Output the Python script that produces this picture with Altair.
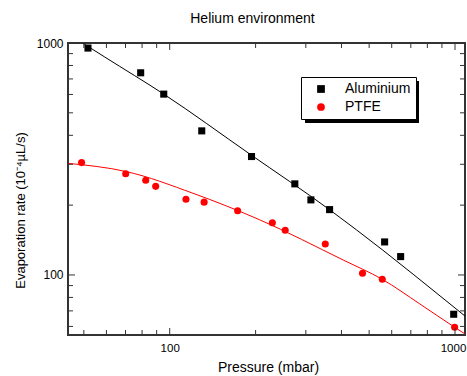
import altair as alt
import pandas as pd

# ---- data ----
al_p = [51.7, 79.1, 95.3, 129.5, 193.5, 274.5, 312.5, 363.4, 566.6, 644.8, 989.5]
al_r = [951, 744, 602, 418, 324, 247, 210.7, 191.3, 138.8, 120, 67.7]
ptfe_p = [49.1, 70.1, 82.4, 89.3, 114, 132, 173, 229, 254, 351, 474, 556, 997]
ptfe_r = [305, 273, 256, 241, 212, 206, 189, 168, 156, 136, 101.7, 95.8, 59.5]

al_fit_p = [49.5, 59.2, 95.3, 190.9, 364, 558, 923, 1084]
al_fit_r = [1000, 870, 602, 332, 190.8, 128, 78.0, 66.5]
ptfe_fit_p = [44.0, 70.5, 120.7, 206.9, 405.5, 555.6, 753, 997, 1084]
ptfe_fit_r = [302.8, 279, 225, 172.8, 116.0, 95.8, 75.0, 59.5, 55.7]

series = ["Aluminium", "PTFE"]
x_major = [100, 1000]
x_minor = [50, 60, 70, 80, 90, 200, 300, 400, 500, 600, 700, 800, 900]
y_major = [100, 1000]
y_minor = [60, 70, 80, 90, 200, 300, 400, 500, 600, 700, 800, 900]

W, H = 397, 292
FRAME = "#333333"
FONT = "Liberation Sans"

points = pd.DataFrame({
    "p": al_p + ptfe_p,
    "r": al_r + ptfe_r,
    "s": [series[0]] * len(al_p) + [series[1]] * len(ptfe_p),
})
fit_al = pd.DataFrame({"p": al_fit_p, "r": al_fit_r})
fit_ptfe = pd.DataFrame({"p": ptfe_fit_p, "r": ptfe_fit_r})

xs = alt.Scale(type="log", domain=[44, 1084], nice=False)
ys = alt.Scale(type="log", domain=[55.1, 1000], nice=False)

x_axis = alt.Axis(values=x_major, format="d", ticks=False, domain=False, grid=False,
                  labelFontSize=11.5, labelPadding=7, labelColor="black",
                  labelOffset={"condition": {"test": "datum.value == 1000", "value": -2}, "value": 0},
                  title="Pressure (mbar)", titleFontSize=14, titleFontWeight="normal",
                  titleColor="black", titleX=200, titleY=32, titleAlign="center",
                  titleBaseline="middle")
y_axis = alt.Axis(values=y_major, format="d", ticks=False, domain=False, grid=False,
                  labelFontSize=12, labelPadding=5, labelColor="black",
                  title="Evaporation rate (10⁻⁴µL/s)", titleFontSize=13,
                  titleFontWeight="normal", titleColor="black", titleAngle=270,
                  titleX=-48, titleY=167, titleAlign="center", titleBaseline="middle")

X = alt.X("p:Q", scale=xs, axis=x_axis)
Y = alt.Y("r:Q", scale=ys, axis=y_axis)

line_al = alt.Chart(fit_al).mark_line(color="black", strokeWidth=1, clip=True,
                                      interpolate="monotone").encode(x=X, y=Y)
line_pt = alt.Chart(fit_ptfe).mark_line(color="red", strokeWidth=1, clip=True,
                                        interpolate="monotone").encode(x=X, y=Y)

leg = alt.Legend(title=None, orient="none", legendX=233, legendY=34, padding=5,
                 strokeColor="black", fillColor="white", symbolOffset=8,
                 labelOffset=17, labelFontSize=14, labelColor="black", symbolSize=60,
                 rowPadding=4, symbolStrokeWidth=0)
pts = alt.Chart(points).mark_point(filled=True, opacity=1, size=50).encode(
    x=X, y=Y,
    color=alt.Color("s:N", scale=alt.Scale(domain=series, range=["black", "red"]), legend=leg),
    shape=alt.Shape("s:N", scale=alt.Scale(domain=series, range=["square", "circle"]), legend=leg),
)

# legend drop shadow (decoration)
shadow = alt.Chart(pd.DataFrame({"a": [0]})).mark_rect(color="black").encode(
    x=alt.value(237), x2=alt.value(351), y=alt.value(38), y2=alt.value(80))


def xticks(vals, L):
    df = pd.DataFrame({"p": vals})
    b = alt.Chart(df).mark_rule(color=FRAME, strokeWidth=1).encode(
        x=X, y=alt.value(H), y2=alt.value(H - L))
    t = alt.Chart(df).mark_rule(color=FRAME, strokeWidth=1).encode(
        x=X, y=alt.value(0), y2=alt.value(L))
    return [b, t]


def yticks(vals, L):
    df = pd.DataFrame({"r": vals})
    l = alt.Chart(df).mark_rule(color=FRAME, strokeWidth=1).encode(
        y=Y, x=alt.value(0), x2=alt.value(L))
    r = alt.Chart(df).mark_rule(color=FRAME, strokeWidth=1).encode(
        y=Y, x=alt.value(W), x2=alt.value(W - L))
    return [l, r]


layers = [line_al, line_pt, shadow, pts]
layers += xticks(x_major, 7) + xticks(x_minor, 5) + yticks(y_major, 7) + yticks(y_minor, 5)

chart = alt.layer(*layers).properties(
    width=W, height=H,
    autosize=alt.AutoSizeParams(type="none"),
    padding={"left": 68, "top": 43, "right": 2, "bottom": 41},
    title=alt.TitleParams("Helium environment", fontSize=14, fontWeight="normal",
                          color="black", anchor="middle", dx=-14, offset=0,
                          baseline="alphabetic"),
).configure(font=FONT, background="white").configure_view(
    stroke=FRAME, strokeWidth=2
)

chart.save("out.html", embed_options={"renderer": "svg", "actions": False})
